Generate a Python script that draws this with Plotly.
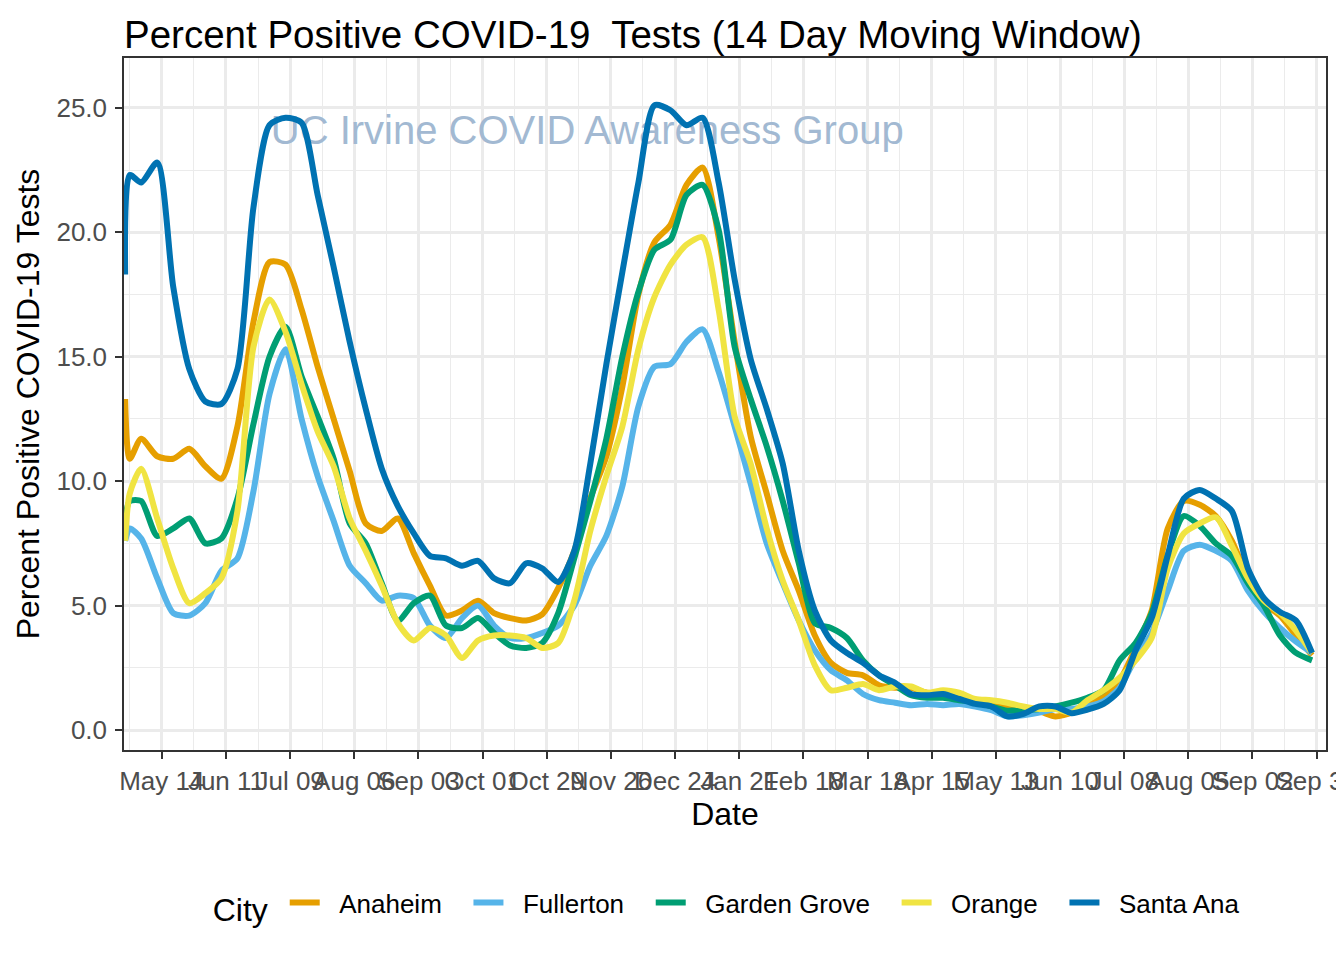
import pandas as pd
import plotly.graph_objects as go

# ---- data ----
dates = ["2020-04-28", "2020-04-30"] + [d.strftime("%Y-%m-%d") for d in pd.date_range("2020-05-05", periods=74, freq="7D")]

anaheim = [13.3, 10.9, 11.7, 11.0, 10.9, 11.3, 10.6, 10.1, 12.2, 16.4, 18.8, 18.7, 16.9, 14.6,
           12.5, 10.4, 8.3, 8.0, 8.5, 7.1, 5.8, 4.6, 4.8, 5.2, 4.7, 4.5, 4.4,
           4.65, 5.7, 7.2, 9.3, 11.0, 13.8, 17.5, 19.6, 20.3, 21.9, 22.6, 19.8, 15.6,
           11.8, 9.5, 7.2, 5.6, 3.8, 2.7, 2.3, 2.2, 1.8, 1.7, 1.7, 1.5, 1.5, 1.4,
           1.2, 1.05, 0.9, 0.8, 0.75, 0.55, 0.7, 1.1, 1.4, 2.0, 3.3, 4.8,
           8.1, 9.2, 9.05, 8.6, 7.6, 6.1, 5.1, 4.6, 3.8, 3.0]

fullerton = [7.6, 8.1, 7.7, 6.1, 4.7, 4.6, 5.1, 6.4, 6.9, 9.6, 13.5, 15.3, 12.5, 10.2,
             8.4, 6.6, 5.9, 5.2, 5.4, 5.3, 4.2, 3.7, 4.5, 5.0, 4.2, 3.7, 3.7,
             3.9, 4.2, 5.0, 6.6, 7.8, 9.8, 13.0, 14.6, 14.7, 15.6, 16.1, 14.4, 12.2,
             9.9, 7.5, 5.9, 4.4, 3.2, 2.4, 2.0, 1.45, 1.2, 1.1, 1.0, 1.05, 1.0, 1.05,
             0.95, 0.8, 0.55, 0.6, 0.7, 0.85, 0.85, 0.95, 1.15, 1.7, 2.9, 3.9,
             5.6, 7.2, 7.45, 7.2, 6.8, 5.6, 4.75, 4.1, 3.55, 3.1]

garden_grove = [8.5, 9.2, 9.2, 7.8, 8.1, 8.5, 7.5, 7.7, 9.3, 12.3, 15.0, 16.2, 14.2, 12.6,
                10.9, 8.3, 7.5, 5.9, 4.4, 5.1, 5.4, 4.2, 4.1, 4.5, 3.9, 3.4, 3.3,
                3.5, 4.7, 6.9, 9.2, 11.7, 15.0, 17.6, 19.3, 19.7, 21.5, 21.9, 20.1, 15.4,
                13.3, 11.4, 9.2, 6.7, 4.3, 4.1, 3.7, 2.8, 2.2, 1.8, 1.4, 1.3, 1.3, 1.2,
                1.15, 0.95, 0.78, 0.82, 0.85, 0.95, 1.1, 1.3, 1.6, 2.8, 3.5, 4.7,
                7.0, 8.6, 8.2, 7.5, 7.0, 5.9, 5.0, 3.8, 3.1, 2.8]

orange = [7.6, 9.5, 10.5, 8.5, 6.5, 5.1, 5.5, 6.1, 8.8, 15.4, 17.3, 16.0, 13.9, 12.0,
          10.6, 8.5, 7.2, 5.8, 4.3, 3.6, 4.1, 3.8, 2.9, 3.6, 3.8, 3.8, 3.7,
          3.3, 3.5, 5.2, 8.0, 10.2, 12.2, 15.3, 17.4, 18.7, 19.5, 19.8, 16.9, 12.6,
          10.7, 8.1, 6.0, 4.4, 2.6, 1.6, 1.7, 1.85, 1.6, 1.75, 1.75, 1.5, 1.6, 1.5,
          1.25, 1.2, 1.1, 0.95, 0.85, 0.85, 0.7, 1.2, 1.6, 2.1, 2.8, 3.7,
          6.5, 7.9, 8.3, 8.55, 7.4, 6.1, 5.2, 4.7, 4.0, 3.1]

santa_ana = [18.3, 22.3, 22.0, 22.8, 17.8, 14.5, 13.2, 13.1, 14.5, 21.0, 24.3, 24.6, 24.4, 21.5,
             18.6, 15.6, 12.9, 10.5, 9.0, 7.9, 7.0, 6.9, 6.6, 6.8, 6.1, 5.9, 6.7,
             6.5, 5.95, 7.2, 10.7, 14.7, 18.4, 22.0, 25.1, 24.9, 24.3, 24.6, 22.0, 18.1,
             14.9, 12.9, 10.7, 7.2, 4.8, 3.6, 3.1, 2.7, 2.2, 1.9, 1.45, 1.4, 1.45, 1.25,
             1.05, 0.95, 0.55, 0.65, 0.95, 0.95, 0.68, 0.82, 1.05, 1.6, 3.2, 4.5,
             7.0, 9.3, 9.65, 9.3, 8.8, 6.5, 5.3, 4.75, 4.4, 3.1]

cities = ["Anaheim", "Fullerton", "Garden Grove", "Orange", "Santa Ana"]
series = [anaheim, fullerton, garden_grove, orange, santa_ana]
colors = ["#E69F00", "#56B4E9", "#009E73", "#F0E442", "#0072B2"]

y_ticks = [0, 5, 10, 15, 20, 25]
watermark = "UC Irvine COVID Awareness Group"
watermark_pos = ("2020-11-15 16:00", 23.95)

FONT = "Liberation Sans, Arial, sans-serif"
DAY = 86400000
NB = "\u00a0"

fig = go.Figure()
fig.add_trace(go.Scatter(x=[watermark_pos[0]], y=[watermark_pos[1]], mode="text",
                         text=[watermark], textposition="middle center",
                         textfont=dict(family=FONT, size=40, color="#A2B9D2"),
                         showlegend=False, hoverinfo="skip"))
for name, vals, col in zip(cities, series, colors):
    fig.add_trace(go.Scatter(x=pd.to_datetime(dates), y=vals, mode="lines",
                             name=NB * 2 + name + NB * 3,
                             line=dict(color=col, width=6, shape="spline", smoothing=0.7)))

# the page body adds an 8 px offset, so the figure is 8 px smaller on each axis
fig.update_layout(
    width=1336, height=952,
    paper_bgcolor="white", plot_bgcolor="white",
    margin=dict(l=116, r=18, t=50, b=210, autoexpand=False),
    font=dict(family=FONT, color="black"),
    title=dict(text="Percent Positive COVID-19\u00a0 Tests (14 Day Moving Window)",
               font=dict(family=FONT, size=38.5, color="black"),
               xref="paper", x=0, xanchor="left",
               yref="container", y=1 - 27 / 952, yanchor="middle"),
    xaxis=dict(type="date", range=["2020-04-27 12:00", "2021-10-04 02:00"],
               tick0="2020-05-14", dtick=28 * DAY, tickformat="%b %d", tickangle=0,
               ticklabeloverflow="allow",
               ticks="outside", ticklen=7, tickwidth=2, tickcolor="#333333",
               tickfont=dict(family=FONT, size=26, color="#4D4D4D"),
               showgrid=True, gridcolor="#EBEBEB", gridwidth=2.5,
               minor=dict(tick0="2020-04-30", dtick=14 * DAY, showgrid=True,
                          gridcolor="#EBEBEB", gridwidth=1.2),
               showline=True, mirror=True, linecolor="#333333", linewidth=1.5,
               zeroline=False, automargin=False,
               title=dict(text="Date", font=dict(family=FONT, size=32, color="black"), standoff=6)),
    yaxis=dict(range=[-0.8, 27.0], tickmode="array", tickvals=y_ticks,
               ticktext=[f"{v:.1f}" for v in y_ticks],
               ticks="outside", ticklen=7, tickwidth=2, tickcolor="#333333",
               ticklabelstandoff=3,
               tickfont=dict(family=FONT, size=26, color="#4D4D4D"),
               showgrid=True, gridcolor="#EBEBEB", gridwidth=2.5,
               minor=dict(tick0=2.5, dtick=5, showgrid=True, gridcolor="#EBEBEB", gridwidth=1.2),
               showline=True, mirror=True, linecolor="#333333", linewidth=1.5,
               zeroline=False, automargin=False,
               title=dict(text="Percent Positive COVID-19 Tests",
                          font=dict(family=FONT, size=32, color="black"), standoff=7)),
    legend=dict(orientation="h", x=0.511, xanchor="center", y=-0.224, yanchor="middle",
                title=dict(text="City" + NB, side="left", font=dict(family=FONT, size=32)),
                font=dict(family=FONT, size=26, color="black"), itemwidth=30,
                traceorder="normal"),
    showlegend=True,
)

fig.write_html("out.html")
